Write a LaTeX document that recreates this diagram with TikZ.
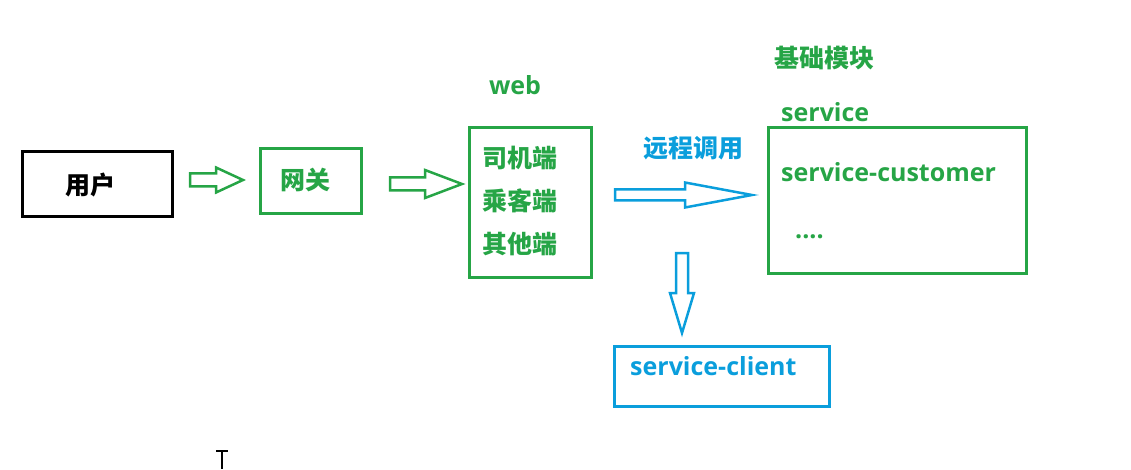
\documentclass[tikz,border=0pt]{standalone}
\usepackage{fontspec}
\setmainfont{Open Sans}
\newfontfamily\cjk{Noto Sans CJK SC}
\usepackage{tikz}

\definecolor{lgreen}{RGB}{38,165,70}
\definecolor{lblue}{RGB}{10,158,220}

% hollow block arrow: style, start, angle, length, shaft half width, head half width, head length
\newcommand{\blockarrow}[7]{%
\draw [#1,shift={(#2)},rotate=#3] (0,#5) -- ({#4-#7},#5) -- ({#4-#7},#6) -- (#4,0)
  -- ({#4-#7},-#6) -- ({#4-#7},-#5) -- (0,-#5) -- cycle;}

\begin{document}
\begin{tikzpicture}[x=1pt,y=-1pt,
  box/.style={draw,line width=2.5pt,inner sep=0pt},
  lat/.style={font=\bfseries\fontsize{25}{30}\selectfont,inner sep=0pt,anchor=base west},
  han/.style={font=\cjk\bfseries\fontsize{25}{30}\selectfont,inner sep=0pt,anchor=base},
  garrow/.style={draw=lgreen,line width=2.5pt,line join=miter},
  barrow/.style={draw=lblue,line width=2.5pt,line join=miter}]
\useasboundingbox (0,0) rectangle (1131,470);
% boxes
\node [box,draw=black,line width=3pt,minimum width=150pt,minimum height=65pt] (user) at (97.5,184) {};
\node [box,draw=lgreen,minimum width=101pt,minimum height=65pt] (gateway) at (311,181) {};
\node [box,draw=lgreen,minimum width=122pt,minimum height=150pt] (web) at (530.5,202.5) {};
\node [box,draw=lgreen,minimum width=258pt,minimum height=146pt] (service) at (897.5,200.5) {};
\node [box,draw=lblue,minimum width=215pt,minimum height=60pt] (client) at (722,376.5) {};
% texts
\node [han] (usertxt) at (90,195) {用户};
\node [han,text=lgreen] (gatetxt) at (305.5,190) {网关};
\node [lat,text=lgreen,anchor=base] (weblbl) at (515,95) {web};
\node [han,text=lgreen,anchor=base west] (driver) at (482,168) {司机端};
\node [han,text=lgreen,anchor=base west] (passenger) at (482,211) {乘客端};
\node [han,text=lgreen,anchor=base west] (others) at (482,253) {其他端};
\node [han,text=lblue] (rpc) at (693.5,158) {远程调用};
\node [han,text=lgreen] (basic) at (824.5,68) {基础模块};
\node [lat,text=lgreen] (servlbl) at (781,122) {service};
\node [lat,text=lgreen] (customer) at (781,182) {service-customer};
\node [lat,text=lgreen] (more) at (795,239) {....};
\node [lat,text=lblue] (clienttxt) at (630,375) {service-client};
% arrows
\coordinate (a1) at (190,180);
\coordinate (a2) at (390,184);
\coordinate (a3) at (615,195);
\coordinate (a4) at (682,253);
\blockarrow{garrow}{a1}{0}{53}{6.5}{12.5}{27}
\blockarrow{garrow}{a2}{0}{72}{6.5}{14}{37}
\blockarrow{barrow}{a3}{0}{137}{5.5}{12.5}{67}
\blockarrow{barrow}{a4}{-90}{80}{6}{12}{40}
% cursor
\draw [line width=1.5pt] (216,451) -- (228,451) (222,451) -- (222,469);
\end{tikzpicture}
\end{document}
